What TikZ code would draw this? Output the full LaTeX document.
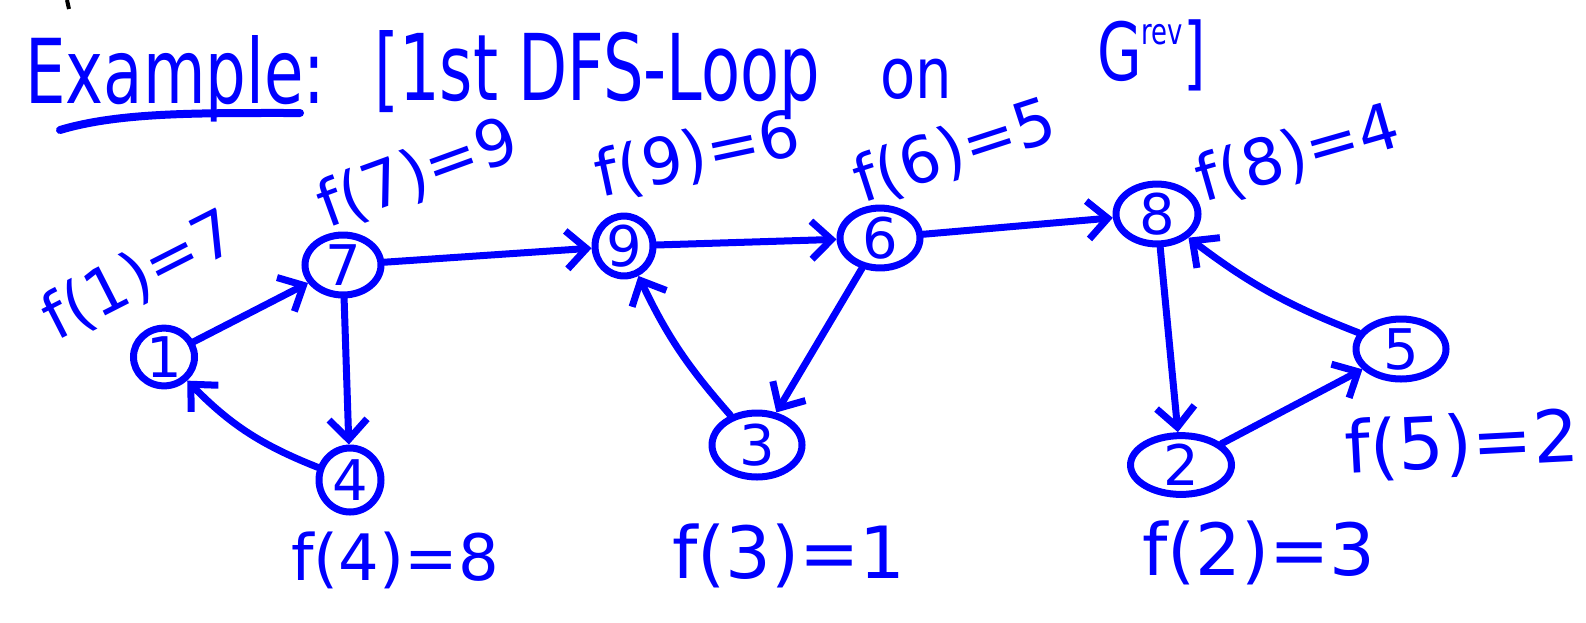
\documentclass[tikz,border=0pt]{standalone}
\usepackage{fontspec}
\setmainfont{DejaVu Sans}
\usetikzlibrary{shapes.geometric,arrows.meta}
\definecolor{ink}{RGB}{0,0,255}
\begin{document}
\begin{tikzpicture}[x=1pt,y=-1pt,
  vtx/.style={draw=ink,ellipse,line width=7pt,inner sep=0pt,text=ink,font=\fontsize{56}{56}\selectfont},
  lbl/.style={text=ink,font=\fontsize{64}{64}\selectfont,inner sep=0pt},
  biglbl/.style={lbl,font=\fontsize{72}{72}\selectfont},
  ttl/.style={text=ink,inner sep=0pt,font=\fontsize{64}{64}\selectfont},
  edge/.style={draw=ink,line width=7pt,line cap=round,-{Straight Barb[length=20pt,width=38pt,line width=7pt]}},
  ]
\useasboundingbox (0,0) rectangle (1586,622);
% tiny black stroke at top
\draw[black,line width=4pt] (67,0) -- (69,9);
% title
\node[ttl,anchor=base west] (t1) at (25,103) {\resizebox{300pt}{68pt}{Example:}};
\node[ttl,anchor=base west] (t2) at (374,100) {\resizebox{446pt}{70pt}{[1st DFS-Loop}};
\node[ttl,anchor=base west] (t3) at (880,98) {\scalebox{0.9}[1.1]{on}};
\node[ttl,anchor=base west] (t4) at (1097,80) {\scalebox{0.72}[1]{\fontsize{80}{80}\selectfont G\raisebox{36pt}{\fontsize{36}{36}\selectfont rev}]}};
\draw[ink,line width=8pt,line cap=round] (60,130) .. controls (120,112) and (200,113) .. (300,113);
% vertices
\node[vtx,minimum width=61pt,minimum height=57pt] (n1) at (164,357) {1};
\node[vtx,minimum width=76pt,minimum height=60pt] (n7) at (343,265) {7};
\node[vtx,minimum width=62pt,minimum height=64pt] (n4) at (350,480) {4};
\node[vtx,minimum width=58pt,minimum height=58pt] (n9) at (624,246) {9};
\node[vtx,minimum width=80pt,minimum height=54pt] (n6) at (880,238) {6};
\node[vtx,minimum width=90pt,minimum height=64pt] (n3) at (757,445) {3};
\node[vtx,minimum width=82pt,minimum height=58pt] (n8) at (1157,214) {8};
\node[vtx,minimum width=101pt,minimum height=56pt] (n2) at (1181,465) {2};
\node[vtx,minimum width=90pt,minimum height=60pt] (n5) at (1401,349) {5};
% labels
\node[lbl,rotate=27] (l1) at (140,276) {f(1)=7};
\node[lbl,rotate=20] (l7) at (418,174) {f(7)=9};
\node[lbl,rotate=12] (l9) at (698,156) {f(9)=6};
\node[lbl,rotate=18] (l6) at (955,152) {f(6)=5};
\node[lbl,rotate=16] (l8) at (1298,155) {f(8)=4};
\node[biglbl,rotate=3] (l5) at (1462,445) {f(5)=2};
\node[biglbl] (l2) at (1259,553) {f(2)=3};
\node[biglbl] (l3) at (789,556) {f(3)=1};
\node[lbl] (l4) at (395,560) {f(4)=8};
% edges
\draw[edge] (n1) -- (n7);
\draw[edge] (n7) -- (n4);
\draw[edge] (n4) to[bend left=12] (n1);
\draw[edge] (n7) -- (n9);
\draw[edge] (n9) -- (n6);
\draw[edge] (n6) -- (n3);
\draw[edge] (n3) to[bend left=8] (n9);
\draw[edge] (n6) -- (n8);
\draw[edge] (n8) -- (n2);
\draw[edge] (n2) -- (n5);
\draw[edge] (n5) to[bend left=8] (n8);
\end{tikzpicture}
\end{document}
